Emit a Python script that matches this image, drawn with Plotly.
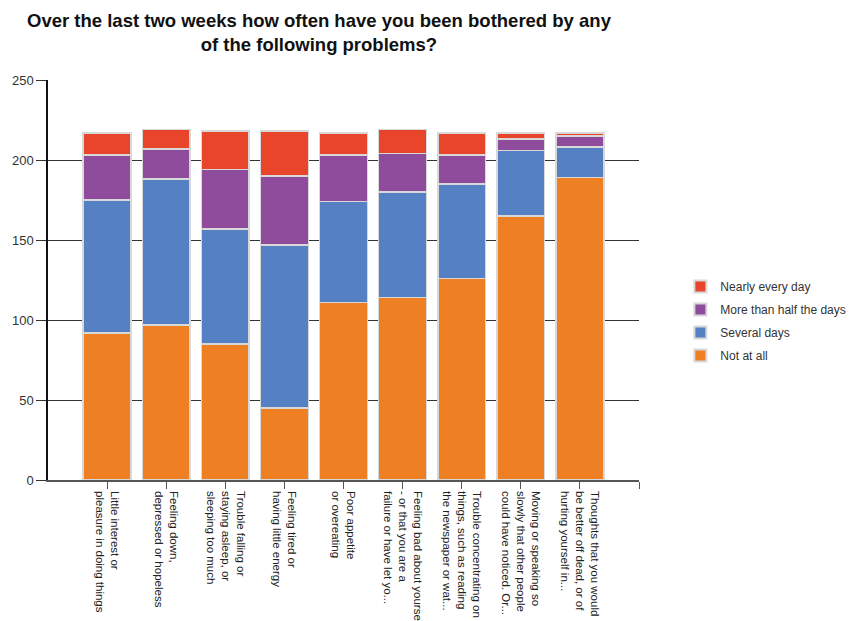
import plotly.graph_objects as go

categories = [
    "Little interest or<br>pleasure in doing things",
    "Feeling down,<br>depressed or hopeless",
    "Trouble falling or<br>staying asleep, or<br>sleeping too much",
    "Feeling tired or<br>having little energy",
    "Poor appetite<br>or overeating",
    "Feeling bad about yourse<br>- or that you are a<br>failure or have let yo...",
    "Trouble concentrating on<br>things, such as reading<br>the newspaper or wat...",
    "Moving or speaking so<br>slowly that other people<br>could have noticed. Or...",
    "Thoughts that you would<br>be better off dead, or of<br>hurting yourself in...",
]
not_at_all = [92, 97, 85, 45, 111, 114, 126, 165, 189]
several_days = [83, 91, 72, 102, 63, 66, 59, 41, 19]
more_than_half = [28, 19, 37, 43, 29, 24, 18, 7, 7]
nearly_every_day = [14, 12, 24, 28, 14, 15, 14, 4, 2]
y_ticks = [0, 50, 100, 150, 200, 250]

series = [
    ("Not at all", not_at_all, "#EE7F22", 4),
    ("Several days", several_days, "#5581C4", 3),
    ("More than half the days", more_than_half, "#8F4C9D", 2),
    ("Nearly every day", nearly_every_day, "#E8452B", 1),
]

xs = list(range(len(categories)))
fig = go.Figure()
for name, vals, color, rank in series:
    fig.add_trace(go.Bar(
        x=xs, y=vals, name=name, width=0.81, legendgroup=name, legendrank=rank,
        marker=dict(color=color, line=dict(color="#D8D8D8", width=1.5)),
    ))

# page body has an 8px default margin, so the figure is drawn 8px smaller, offset by 8px
fig.add_annotation(
    text="<b>Over the last two weeks how often have you been bothered by any<br>of the following problems?</b>",
    xref="paper", yref="paper", x=0.46, y=1.119,
    xanchor="center", yanchor="middle", showarrow=False,
    font=dict(size=18.5, color="#111111"),
)

fig.update_layout(
    barmode="stack",
    width=848, height=613,
    margin=dict(l=40, r=217, t=72, b=141, autoexpand=False),
    paper_bgcolor="white", plot_bgcolor="white",
    font=dict(family="Liberation Sans, Arial, sans-serif", color="#222222"),
    legend=dict(
        x=1.07, xanchor="left", y=0.3975, yanchor="middle",
        traceorder="grouped", font=dict(size=12, color="#333333"),
        tracegroupgap=4, itemsizing="constant",
    ),
    showlegend=True,
)
fig.update_xaxes(
    range=[-1, 9], automargin=False,
    tickmode="array", tickvals=xs + [9], ticktext=categories + [""],
    tickangle=90, ticks="outside", ticklen=7, tickcolor="#555555",
    showline=True, linecolor="#555555", linewidth=1.5,
    showgrid=False, zeroline=False,
    tickfont=dict(size=11.5, color="#222222"),
)
fig.update_yaxes(
    range=[0, 250], tickvals=y_ticks, automargin=False,
    ticks="outside", ticklen=10, tickcolor="#333333",
    showline=True, linecolor="#111111", linewidth=1.5,
    showgrid=True, gridcolor="#333333", gridwidth=1,
    zeroline=False,
    tickfont=dict(size=13, color="#333333"),
)

fig.write_html("out.html")
